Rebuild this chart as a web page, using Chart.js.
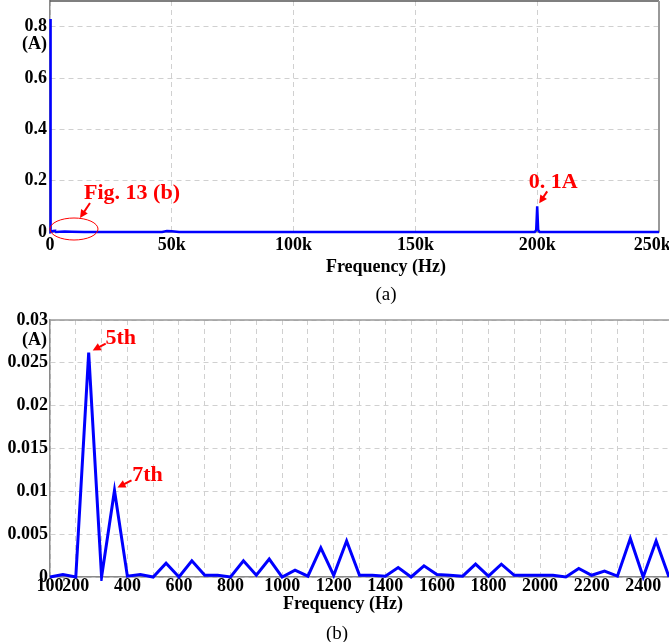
<!DOCTYPE html>
<html>
<head>
<meta charset="utf-8">
<script src="https://cdn.jsdelivr.net/npm/chart.js@4.4.1/dist/chart.umd.min.js"></script>
<style>
  body { margin: 0; background: #fff; }
  #page { position: relative; width: 669px; height: 642px; overflow: hidden; font-family: 'Liberation Serif', 'Times New Roman', serif; }
  canvas { position: absolute; left: 0; }
  .lbl { position: absolute; transform: translate(-50%, -50%); white-space: nowrap; color: #000; }
  .ttl { font-weight: bold; font-size: 18px; }
  .cap { font-size: 19px; }
</style>
</head>
<body>
<div id="page">
  <canvas id="specChart" width="669" height="259" style="top:0"></canvas>
  <div class="lbl ttl" style="left:386px; top:266px">Frequency (Hz)</div>
  <div class="lbl cap" style="left:386px; top:294px">(a)</div>
  <canvas id="harmChart" width="669" height="290" style="top:305px"></canvas>
  <div class="lbl ttl" style="left:343px; top:603px">Frequency (Hz)</div>
  <div class="lbl cap" style="left:337px; top:633px">(b)</div>
</div>
<script>
// (a) full spectrum, 0 - 250 kHz
const specFreq = [0, 50, 100, 250, 300, 350, 400, 1250, 2350, 2450, 2500, 6000, 9000, 14000,
                  46000, 48000, 50000, 53000, 199000, 199600, 200000, 200400, 201000, 250000];
const specAmp  = [0, 0.83, 0, 0.026, 0, 0.010, 0, 0.004, 0.0045, 0.004, 0, 0.002, 0.001, 0,
                  0, 0.004, 0.003, 0, 0, 0.008, 0.1, 0.008, 0, 0];
const specXTicks = [0, 50000, 100000, 150000, 200000, 250000];
const specXLabels = ['0', '50k', '100k', '150k', '200k', '250k   '];
const specYTicks = [0, 0.2, 0.4, 0.6, 0.8];
const specYLabels = ['0', '0.2', '0.4', '0.6', '0.8'];

// (b) zoom on the low harmonics, 100 - 2500 Hz
const harmFreq = [100, 150, 200, 250, 300, 350, 400, 450, 500, 550, 600, 650, 700, 750, 800, 850,
                  900, 950, 1000, 1050, 1100, 1150, 1200, 1250, 1300, 1350, 1400, 1450, 1500, 1550,
                  1600, 1650, 1700, 1750, 1800, 1850, 1900, 1950, 2000, 2050, 2100, 2150, 2200,
                  2250, 2300, 2350, 2400, 2450, 2500];
const harmAmp  = [0, 0.0003, 0, 0.0262, 0, 0.0101, 0.0001, 0.0003, 0, 0.0016, 0, 0.0019, 0.0002,
                  0.0002, 0, 0.0019, 0.0002, 0.0021, 0, 0.0008, 0.0001, 0.0034, 0.0002, 0.0042,
                  0.0002, 0.0002, 0.0001, 0.0011, 0, 0.0013, 0.0003, 0.0002, 0.0001, 0.0015, 0.0001,
                  0.0015, 0.0002, 0.0002, 0.0002, 0.0002, 0, 0.001, 0.0002, 0.0007, 0.0001, 0.0045,
                  0, 0.0042, 0];
const harmXTicks = [100, 200, 300, 400, 500, 600, 700, 800, 900, 1000, 1100, 1200, 1300, 1400,
                    1500, 1600, 1700, 1800, 1900, 2000, 2100, 2200, 2300, 2400, 2500];
const harmXLabeled = [100, 200, 400, 600, 800, 1000, 1200, 1400, 1600, 1800, 2000, 2200, 2400];
const harmYTicks = [0, 0.005, 0.01, 0.015, 0.02, 0.025, 0.03];
const harmYLabels = ['0', '0.005', '0.01', '0.015', '0.02', '0.025', '0.03'];

const tickFont = { family: "'Liberation Serif'", weight: 'bold', size: 18, lineHeight: 1 };
const RED = '#ff0000';

function arrow(ctx, x1, y1, x2, y2) {
  const a = Math.atan2(y2 - y1, x2 - x1);
  ctx.lineWidth = 2;
  ctx.beginPath();
  ctx.moveTo(x1, y1);
  ctx.lineTo(x2 - 5 * Math.cos(a), y2 - 5 * Math.sin(a));
  ctx.stroke();
  ctx.beginPath();
  ctx.moveTo(x2, y2);
  ctx.lineTo(x2 - 8 * Math.cos(a) + 4 * Math.sin(a), y2 - 8 * Math.sin(a) - 4 * Math.cos(a));
  ctx.lineTo(x2 - 8 * Math.cos(a) - 4 * Math.sin(a), y2 - 8 * Math.sin(a) + 4 * Math.cos(a));
  ctx.closePath();
  ctx.fill();
}

// frame lines, unit label and the red notes
const decor = {
  id: 'decor',
  beforeDatasetsDraw(chart, args, opts) {
    const { ctx, chartArea: a } = chart;
    ctx.save();
    (opts.frame || []).forEach(f => {
      ctx.strokeStyle = f.color;
      ctx.lineWidth = f.width;
      ctx.beginPath();
      if (f.side === 'top') { ctx.moveTo(a.left, a.top); ctx.lineTo(a.right, a.top); }
      if (f.side === 'right') { ctx.moveTo(a.right, a.top); ctx.lineTo(a.right, a.bottom); }
      ctx.stroke();
    });
    ctx.restore();
  },
  afterDatasetsDraw(chart, args, opts) {
    const { ctx, chartArea: a, scales: { x, y } } = chart;
    ctx.save();
    if (opts.unit) {
      ctx.fillStyle = '#000';
      ctx.font = "bold 18px 'Liberation Serif'";
      ctx.textAlign = 'right';
      ctx.textBaseline = 'middle';
      ctx.fillText(opts.unit.text, a.left - 3, y.getPixelForValue(opts.unit.at) + opts.unit.dy);
    }
    (opts.notes || []).forEach(n => {
      const px = x.getPixelForValue(n.at[0]);
      const py = y.getPixelForValue(n.at[1]);
      ctx.strokeStyle = RED;
      ctx.fillStyle = RED;
      if (n.ellipse) {
        ctx.lineWidth = 1;
        ctx.beginPath();
        ctx.ellipse(px + n.ellipse[0], py + n.ellipse[1], n.ellipse[2], n.ellipse[3], 0, 0, 2 * Math.PI);
        ctx.stroke();
      }
      arrow(ctx, px + n.arrow[0], py + n.arrow[1], px + n.arrow[2], py + n.arrow[3]);
      ctx.font = "bold 22px 'Liberation Serif'";
      ctx.textAlign = 'center';
      ctx.textBaseline = 'middle';
      ctx.fillText(n.text, px + n.dx, py + n.dy);
    });
    ctx.restore();
  }
};

const gridOpts = { color: '#d0d0d0', lineWidth: 1, drawTicks: false };
const borderOpts = { display: true, color: '#8a8a8a', width: 1.5, dash: [5, 4] };

new Chart(document.getElementById('specChart'), {
  type: 'line',
  data: {
    datasets: [{
      data: specFreq.map((f, i) => ({ x: f, y: specAmp[i] })),
      borderColor: '#0000ff',
      borderWidth: 2.5,
      pointRadius: 0,
      tension: 0,
      clip: 4
    }]
  },
  options: {
    responsive: false,
    animation: false,
    layout: { padding: { top: 1, bottom: 1, left: 0, right: 0 } },
    plugins: {
      legend: { display: false },
      tooltip: { enabled: false },
      decor: {
        frame: [{ side: 'top', color: '#555', width: 1.5 }, { side: 'right', color: '#999', width: 2 }],
        unit: { text: '(A)', at: 0.8, dy: 18 },
        notes: [
          { at: [0, 0], text: 'Fig. 13 (b)', dx: 82, dy: -39, arrow: [40, -29, 30, -14], ellipse: [24, -3, 24, 11] },
          { at: [200000, 0.1], text: '0. 1A', dx: 16, dy: -24, arrow: [10, -15, 2, -3] }
        ]
      }
    },
    scales: {
      x: {
        type: 'linear', min: 0, max: 250000,
        afterBuildTicks: s => { s.ticks = specXTicks.map(v => ({ value: v })); },
        afterFit: s => { s.paddingRight = 10; },
        ticks: { font: tickFont, color: '#000', padding: 4, maxRotation: 0, autoSkip: false,
                 callback: (v, i) => specXLabels[i] },
        grid: gridOpts, border: borderOpts
      },
      y: {
        min: 0, max: 0.9,
        afterBuildTicks: s => { s.ticks = specYTicks.map(v => ({ value: v })); },
        afterFit: s => { s.width = 50; s.paddingTop = 0; s.paddingBottom = 0; },
        ticks: { font: tickFont, color: '#000', padding: 3, callback: (v, i) => specYLabels[i] },
        grid: gridOpts, border: borderOpts
      }
    }
  },
  plugins: [decor]
});

new Chart(document.getElementById('harmChart'), {
  type: 'line',
  data: {
    datasets: [{
      data: harmFreq.map((f, i) => ({ x: f, y: harmAmp[i] })),
      borderColor: '#0000ff',
      borderWidth: 3,
      pointRadius: 0,
      tension: 0,
      clip: 4
    }]
  },
  options: {
    responsive: false,
    animation: false,
    layout: { padding: { top: 15, bottom: 0, left: 0, right: 0 } },
    plugins: {
      legend: { display: false },
      tooltip: { enabled: false },
      decor: {
        frame: [{ side: 'top', color: '#999', width: 1.5 }],
        unit: { text: '(A)', at: 0.03, dy: 20 },
        notes: [
          { at: [250, 0.0262], text: '5th', dx: 32, dy: -14, arrow: [17, -9, 4, -2] },
          { at: [350, 0.0101], text: '7th', dx: 33, dy: -15, arrow: [17, -10, 3, -3] }
        ]
      }
    },
    scales: {
      x: {
        type: 'linear', min: 100, max: 2500,
        afterBuildTicks: s => { s.ticks = harmXTicks.map(v => ({ value: v })); },
        afterFit: s => { s.paddingRight = 0; },
        ticks: { font: tickFont, color: '#000', padding: 0, maxRotation: 0, autoSkip: false,
                 callback: v => harmXLabeled.includes(v) ? String(v) : '' },
        grid: gridOpts, border: borderOpts
      },
      y: {
        min: 0, max: 0.03,
        afterBuildTicks: s => { s.ticks = harmYTicks.map(v => ({ value: v })); },
        afterFit: s => { s.width = 50; },
        ticks: { font: tickFont, color: '#000', padding: 2, callback: (v, i) => harmYLabels[i] },
        grid: gridOpts, border: borderOpts
      }
    }
  },
  plugins: [decor]
});
</script>
</body>
</html>
